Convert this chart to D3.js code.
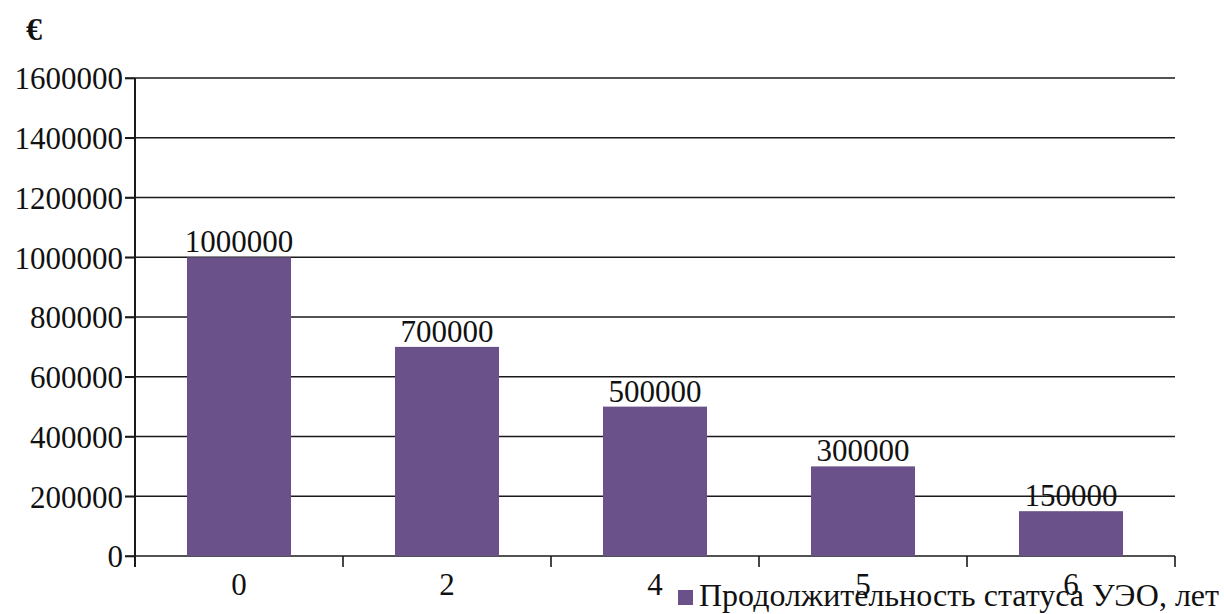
<!DOCTYPE html>
<html>
<head>
<meta charset="utf-8">
<script src="https://cdn.jsdelivr.net/npm/d3@7"></script>
</head>
<body style="margin:0; background:#fff">
<script>
// Data
const years = ["0", "2", "4", "5", "6"];
const amounts = [1000000, 700000, 500000, 300000, 150000];
const yTicks = [0, 200000, 400000, 600000, 800000, 1000000, 1200000, 1400000, 1600000];
const seriesName = "Продолжительность статуса УЭО, лет";
const unitLabel = "€";

const data = years.map((y, i) => ({ year: y, value: amounts[i] }));

const serif = "Liberation Serif";

// Dimensions
const margin = { top: 78, right: 49, bottom: 58, left: 135 };
const width = 1224 - margin.left - margin.right;
const height = 614 - margin.top - margin.bottom;
const barColor = "#6b5189";

const root = d3.select("body")
    .append("svg")
    .attr("width", 1224)
    .attr("height", 614)
    .attr("font-family", serif);

const svg = root.append("g")
    .attr("transform", `translate(${margin.left},${margin.top})`);

// Scales
const x = d3.scaleBand()
    .domain(years)
    .range([0, width])
    .paddingInner(0.5)
    .paddingOuter(0.25);

const y = d3.scaleLinear()
    .domain([0, 1600000])
    .range([height, 0]);

// Gridlines
svg.append("g")
    .selectAll("line")
    .data(yTicks)
    .enter()
    .append("line")
    .attr("x1", -10)
    .attr("x2", width)
    .attr("y1", d => y(d))
    .attr("y2", d => y(d))
    .attr("stroke", "#1a1a1a")
    .attr("stroke-width", 1.6);

// Y axis
const yAxis = svg.append("g")
    .call(d3.axisLeft(y).tickValues(yTicks).tickSize(10).tickSizeOuter(0).tickFormat(d3.format("d")))
    .attr("font-family", serif)
    .attr("font-size", 31);
yAxis.select(".domain").remove();
yAxis.selectAll("line").attr("stroke", "#1a1a1a").attr("stroke-width", 1.6);
yAxis.selectAll("text")
    .attr("x", -12)
    .attr("dy", "0.35em")
    .attr("fill", "#111");

svg.append("line")
    .attr("x1", 0).attr("x2", 0)
    .attr("y1", 0).attr("y2", height + 11)
    .attr("stroke", "#1a1a1a")
    .attr("stroke-width", 2);

// X axis tick marks at category boundaries
const boundaries = d3.range(years.length + 1).map(i => i * width / years.length);
svg.append("g")
    .selectAll("line")
    .data(boundaries)
    .enter()
    .append("line")
    .attr("x1", d => d).attr("x2", d => d)
    .attr("y1", height).attr("y2", height + 11)
    .attr("stroke", "#1a1a1a")
    .attr("stroke-width", 1.6);

// Bars
svg.selectAll(".bar")
    .data(data)
    .enter()
    .append("rect")
    .attr("class", "bar")
    .attr("x", d => x(d.year))
    .attr("y", d => y(d.value))
    .attr("width", x.bandwidth())
    .attr("height", d => height - y(d.value))
    .attr("fill", barColor);

// Value labels
svg.selectAll(".val")
    .data(data)
    .enter()
    .append("text")
    .attr("class", "val")
    .attr("x", d => x(d.year) + x.bandwidth() / 2)
    .attr("y", d => y(d.value) - 5)
    .attr("text-anchor", "middle")
    .attr("font-size", 31)
    .attr("fill", "#111")
    .text(d => d.value);

// X labels
svg.selectAll(".xlab")
    .data(data)
    .enter()
    .append("text")
    .attr("class", "xlab")
    .attr("x", d => x(d.year) + x.bandwidth() / 2)
    .attr("y", height + 39)
    .attr("text-anchor", "middle")
    .attr("font-size", 31)
    .attr("fill", "#111")
    .text(d => d.year);

// Unit label
svg.append("text")
    .attr("x", 34 - margin.left)
    .attr("y", 40 - margin.top)
    .attr("text-anchor", "middle")
    .attr("font-size", 32)
    .attr("font-weight", "bold")
    .attr("fill", "#111")
    .text(unitLabel);

// Legend
const legend = svg.append("g")
    .attr("transform", `translate(${678 - margin.left}, ${590 - margin.top})`);
legend.append("rect")
    .attr("width", 15)
    .attr("height", 15)
    .attr("fill", barColor);
legend.append("text")
    .attr("x", 21)
    .attr("y", 16)
    .attr("font-size", 32)
    .attr("fill", "#111")
    .text(seriesName);
</script>
</body>
</html>
